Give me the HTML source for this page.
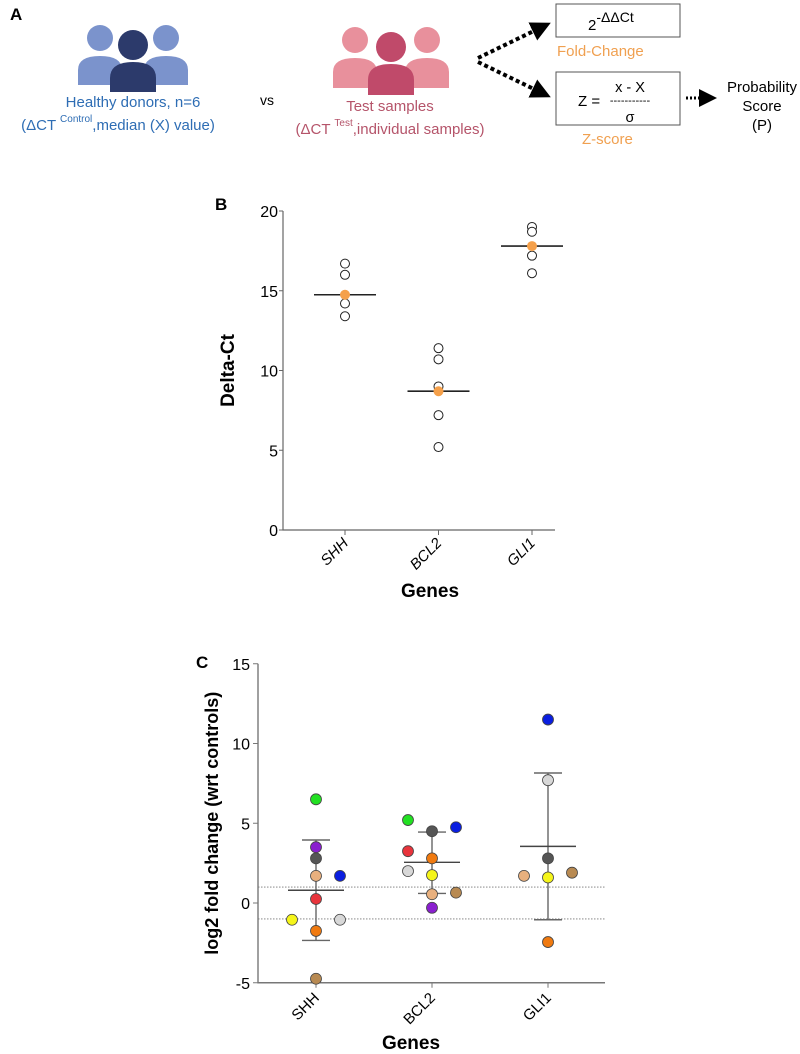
<!DOCTYPE html>
<html><head><meta charset="utf-8"><style>
body{margin:0;background:#fff;font-family:"Liberation Sans",Arial,sans-serif}
svg{display:block}
</style></head><body>
<svg id="fig" width="800" height="1054" viewBox="0 0 800 1054" xmlns="http://www.w3.org/2000/svg" font-family="Liberation Sans, Arial, sans-serif">
<defs>
<marker id="ah" markerWidth="5" markerHeight="5" refX="2" refY="2.5" orient="auto"><path d="M0,0 L5,2.5 L0,5 z" fill="#000"/></marker>
<marker id="ah2" markerWidth="6" markerHeight="6" refX="3" refY="3" orient="auto"><path d="M0,0 L6,3 L0,6 z" fill="#000"/></marker>
</defs>
<g>
<text x="10" y="20" font-size="17" font-weight="bold">A</text>
<g>
<circle cx="100" cy="38" r="13" fill="#7b93cc"/><path d="M78,85 L78,70 Q78,56 100,56 Q122,56 122,70 L122,85z" fill="#7b93cc"/>
<circle cx="166" cy="38" r="13" fill="#7b93cc"/><path d="M144,85 L144,70 Q144,56 166,56 Q188,56 188,70 L188,85z" fill="#7b93cc"/>
<circle cx="133" cy="45" r="15" fill="#2c3a6b"/><path d="M110,92 L110,78 Q110,62 133,62 Q156,62 156,78 L156,92z" fill="#2c3a6b"/>
</g>
<text x="133" y="107" font-size="15" fill="#2e6db4" text-anchor="middle">Healthy donors, n=6</text>
<text x="118" y="130" font-size="15" fill="#2e6db4" text-anchor="middle">(ΔCT <tspan font-size="10" dy="-8">Control</tspan><tspan dy="8">,median (X) value)</tspan></text>
<text x="260" y="105" font-size="14">vs</text>
<g>
<circle cx="355" cy="40" r="13" fill="#e8909c"/><path d="M333,88 L333,72 Q333,58 355,58 Q377,58 377,72 L377,88z" fill="#e8909c"/>
<circle cx="427" cy="40" r="13" fill="#e8909c"/><path d="M405,88 L405,72 Q405,58 427,58 Q449,58 449,72 L449,88z" fill="#e8909c"/>
<circle cx="391" cy="47" r="15" fill="#c04a6a"/><path d="M368,95 L368,80 Q368,64 391,64 Q414,64 414,80 L414,95z" fill="#c04a6a"/>
</g>
<text x="390" y="111" font-size="15" fill="#b5546a" text-anchor="middle">Test samples</text>
<text x="390" y="134" font-size="15" fill="#b5546a" text-anchor="middle">(ΔCT <tspan font-size="10" dy="-8">Test</tspan><tspan dy="8">,individual samples)</tspan></text>
<line x1="478" y1="58" x2="540" y2="28" stroke="#000" stroke-width="4" stroke-dasharray="4,3" marker-end="url(#ah)"/>
<line x1="478" y1="62" x2="540" y2="92" stroke="#000" stroke-width="4" stroke-dasharray="4,3" marker-end="url(#ah)"/>
<rect x="556" y="4" width="124" height="33" fill="#fff" stroke="#555"/>
<text x="588" y="30" font-size="15">2<tspan font-size="14" dy="-8">-ΔΔCt</tspan></text>
<text x="557" y="56" font-size="15" fill="#f0a050">Fold-Change</text>
<rect x="556" y="72" width="124" height="53" fill="#fff" stroke="#555"/>
<text x="578" y="106" font-size="15">Z =</text>
<text x="630" y="92" font-size="14.5" text-anchor="middle">x - X</text>
<text x="630" y="104" font-size="11" text-anchor="middle">-----------</text>
<text x="630" y="122" font-size="14.5" text-anchor="middle">σ</text>
<text x="582" y="144" font-size="15" fill="#f0a050">Z-score</text>
<line x1="686" y1="98" x2="708" y2="98" stroke="#000" stroke-width="3" stroke-dasharray="2,2" marker-end="url(#ah2)"/>
<text x="762" y="92" font-size="15" text-anchor="middle">Probability</text>
<text x="762" y="111" font-size="15" text-anchor="middle">Score</text>
<text x="762" y="130" font-size="15" text-anchor="middle">(P)</text>
</g>
<text x="215" y="210" font-size="17" font-weight="bold">B</text>
<g id="chartB"></g>
<text x="196" y="668" font-size="17" font-weight="bold">C</text>
<g id="chartC"></g>
</svg>
<script>
const NS="http://www.w3.org/2000/svg";
function mk(p,tag,a,txt){const e=document.createElementNS(NS,tag);for(const k in a)e.setAttribute(k,a[k]);if(txt!==undefined)e.textContent=txt;p.appendChild(e);return e;}

// Panel B data
const genesB=["SHH","BCL2","GLI1"];
const bSamples=[[16.7,16.0,14.2,13.4],[11.4,10.7,9.0,7.2,5.2],[19.0,18.7,17.2,16.1]];
const bMedians=[14.75,8.7,17.8];
const bTicks=[0,5,10,15,20];

// Panel C data
const genesC=["SHH","BCL2","GLI1"];
const cColors=["#22e022","#8a1fcf","#555555","#e8b07e","#0a1ee0","#e8343c","#f5f51a","#d8d8d8","#f07a10","#b88a52"];
const cSHH=[6.5,3.5,2.8,1.7,1.7,0.25,-1.05,-1.05,-1.75,-4.75];
const cSHHoff=[0,0,0,0,1,0,-1,1,0,0];
const cBCL2=[5.2,-0.3,4.5,0.55,4.75,3.25,1.75,2.0,2.8,0.65];
const cBCL2off=[-1,0,0,0,1,-1,0,-1,0,1];
const cGLI1=[null,null,2.8,1.7,11.5,null,1.6,7.7,-2.45,1.9];
const cGLI1off=[0,0,0,-1,0,0,0,0,0,1];
const cMeans=[0.8,2.55,3.55];
const cSDhi=[3.95,4.45,8.15];
const cSDlo=[-2.35,0.6,-1.05];
const cTicks=[-5,0,5,10,15];
const cThresholds=[1,-1];

// Chart B
(function(){
const g=document.getElementById("chartB");
const x0=283,x1=555,y=v=>530-v*15.95,x=i=>345+i*93.5;
const ax=mk(g,"path",{d:`M${x0},${y(20)} L${x0},${y(0)} L${x1},${y(0)}`,fill:"none",stroke:"#666","stroke-width":1.2});


bTicks.forEach(t=>{
 mk(g,"line",{x1:x0-4,x2:x0,y1:y(t),y2:y(t),stroke:"#666"});
 const tl=mk(g,"text",{x:x0-5,y:y(t)+6,"font-size":16,"text-anchor":"end"},t);
 
 
});
genesB.forEach((gn,i)=>{
 mk(g,"line",{x1:x(i),x2:x(i),y1:y(0),y2:y(0)+5,stroke:"#666"});
 const l=mk(g,"text",{x:x(i)+4,y:y(0)+14,"font-size":15,"font-style":"italic","text-anchor":"end",transform:`rotate(-45 ${x(i)+4} ${y(0)+14})`},gn);
 
 
 const ml=mk(g,"line",{x1:x(i)-31,x2:x(i)+31,y1:y(bMedians[i]),y2:y(bMedians[i]),stroke:"#222","stroke-width":1.6});
 
 
 bSamples[i].forEach(v=>{
  const c=mk(g,"circle",{cx:x(i),cy:y(v),r:4.5,fill:"#fff",stroke:"#222","stroke-width":1});
  
  
 });
 const m=mk(g,"circle",{cx:x(i),cy:y(bMedians[i]),r:5,fill:"#f5a04a"});
 
 
});
const yt=mk(g,"text",{x:0,y:0,"font-size":19,"font-weight":"bold","text-anchor":"middle",transform:`translate(234 ${y(10)}) rotate(-90)`},"Delta-Ct");


const xt=mk(g,"text",{x:430,y:597,"font-size":19,"font-weight":"bold","text-anchor":"middle"},"Genes");


})();

// Chart C
(function(){
const g=document.getElementById("chartC");
const x0=258,x1=605,y=v=>903-v*15.95,x=i=>316+i*116,off=24;
cThresholds.forEach(t=>{
 const l=mk(g,"line",{x1:x0,x2:x1,y1:y(t),y2:y(t),stroke:"#777","stroke-width":0.9,"stroke-dasharray":"1.5,1.5"});
 
 
});
const ax=mk(g,"path",{d:`M${x0},${y(15)} L${x0},${y(-5)} L${x1},${y(-5)}`,fill:"none",stroke:"#777","stroke-width":1.4});


cTicks.forEach(t=>{
 mk(g,"line",{x1:x0-5,x2:x0,y1:y(t),y2:y(t),stroke:"#777"});
 const tl=mk(g,"text",{x:x0-8,y:y(t)+6,"font-size":16,"text-anchor":"end"},t);
 
 
});
const sets=[[cSHH,cSHHoff],[cBCL2,cBCL2off],[cGLI1,cGLI1off]];
genesC.forEach((gn,i)=>{
 mk(g,"line",{x1:x(i),x2:x(i),y1:y(-5),y2:y(-5)+5,stroke:"#777"});
 const l=mk(g,"text",{x:x(i)+4,y:y(-5)+16,"font-size":15,"text-anchor":"end",transform:`rotate(-45 ${x(i)+4} ${y(-5)+16})`},gn);
 
 
 const eb=mk(g,"path",{d:`M${x(i)},${y(cSDhi[i])} L${x(i)},${y(cSDlo[i])} M${x(i)-14},${y(cSDhi[i])} L${x(i)+14},${y(cSDhi[i])} M${x(i)-14},${y(cSDlo[i])} L${x(i)+14},${y(cSDlo[i])}`,stroke:"#666","stroke-width":1.4,fill:"none"});
 
 
 const ml=mk(g,"line",{x1:x(i)-28,x2:x(i)+28,y1:y(cMeans[i]),y2:y(cMeans[i]),stroke:"#444","stroke-width":1.4});
 
 
 const [vals,offs]=sets[i];
 vals.forEach((v,k)=>{
  if(v===null)return;
  const c=mk(g,"circle",{cx:x(i)+offs[k]*off,cy:y(v),r:5.5,fill:cColors[k],stroke:"#444","stroke-width":0.8});
  
  
 });
});
const yt=mk(g,"text",{x:0,y:0,"font-size":18,"font-weight":"bold","text-anchor":"middle",transform:`translate(218 ${y(5)}) rotate(-90)`},"log2 fold change (wrt controls)");


const xt=mk(g,"text",{x:411,y:1049,"font-size":19,"font-weight":"bold","text-anchor":"middle"},"Genes");


})();
</script>
</body></html>
